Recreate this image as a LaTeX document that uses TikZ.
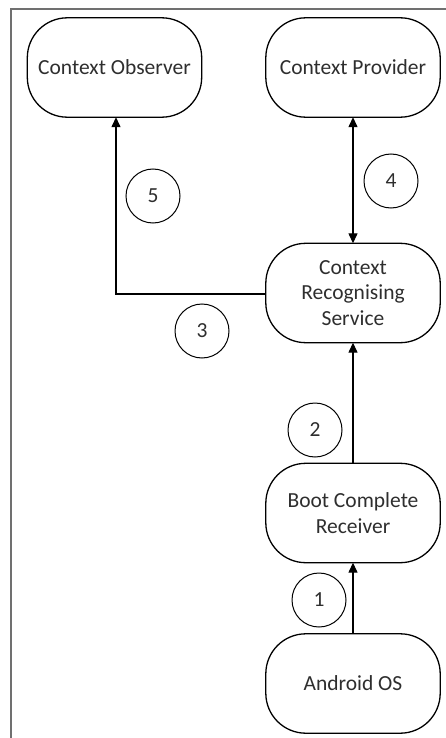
\documentclass[tikz,border=0pt]{standalone}
\usepackage{fontspec}
\setmainfont{Carlito}
\usetikzlibrary{arrows.meta}
\definecolor{framegray}{HTML}{707070}
\definecolor{inkgray}{HTML}{2e2e2e}
\begin{document}
\begin{tikzpicture}[x=1pt,y=-1pt,
  stage/.style={minimum width=174pt,minimum height=99pt,inner sep=0pt,align=center,
    text=inkgray,font=\fontsize{21.5}{25.5}\selectfont},
  stageline/.style={draw=black,line width=1.3pt,rounded corners=40pt},
  stepno/.style={draw=black,line width=1pt,circle,minimum size=54pt,inner sep=0pt,
    text=inkgray,font=\fontsize{21.5}{25.5}\selectfont},
  flow/.style={line width=1.3pt,-{Triangle[length=10pt,width=9pt]}},
  flowboth/.style={line width=1.3pt,{Triangle[length=10pt,width=9pt]}-{Triangle[length=10pt,width=9pt]}}]
\useasboundingbox (0,0) rectangle (446,738);
% outer frame (only left and top sides visible)
\draw[framegray,line width=2pt] (11,738) -- (11,9) -- (446,9);
% components
\node[stage] (obs)  at (114.5,67.5) {Context Observer};
\node[stage] (prov) at (353,67.5)   {Context Provider};
\node[stage] (crs)  at (353,293)    {Context\\Recognising\\Service};
\node[stage] (bcr)  at (353,513)    {Boot Complete\\Receiver};
\node[stage] (aos)  at (353,683.5)  {Android OS};
\foreach \n in {obs,prov,crs,bcr,aos}
  \draw[stageline] (\n.south west) rectangle (\n.north east);
% connectors
\draw[flow] (aos.north) -- (bcr.south);
\draw[flow] (bcr.north) -- (crs.south);
\draw[flowboth] (crs.north) -- (prov.south);
\coordinate (bend) at (116,294);
\draw[flow] (crs.west |- bend) -- (bend) -- (bend |- obs.south);
% step numbers
\node[stepno] (s1) at (319,600) {1};
\node[stepno] (s2) at (315,430) {2};
\node[stepno] (s3) at (202,331) {3};
\node[stepno] (s4) at (391,181) {4};
\node[stepno] (s5) at (153,196) {5};
\end{tikzpicture}
\end{document}
